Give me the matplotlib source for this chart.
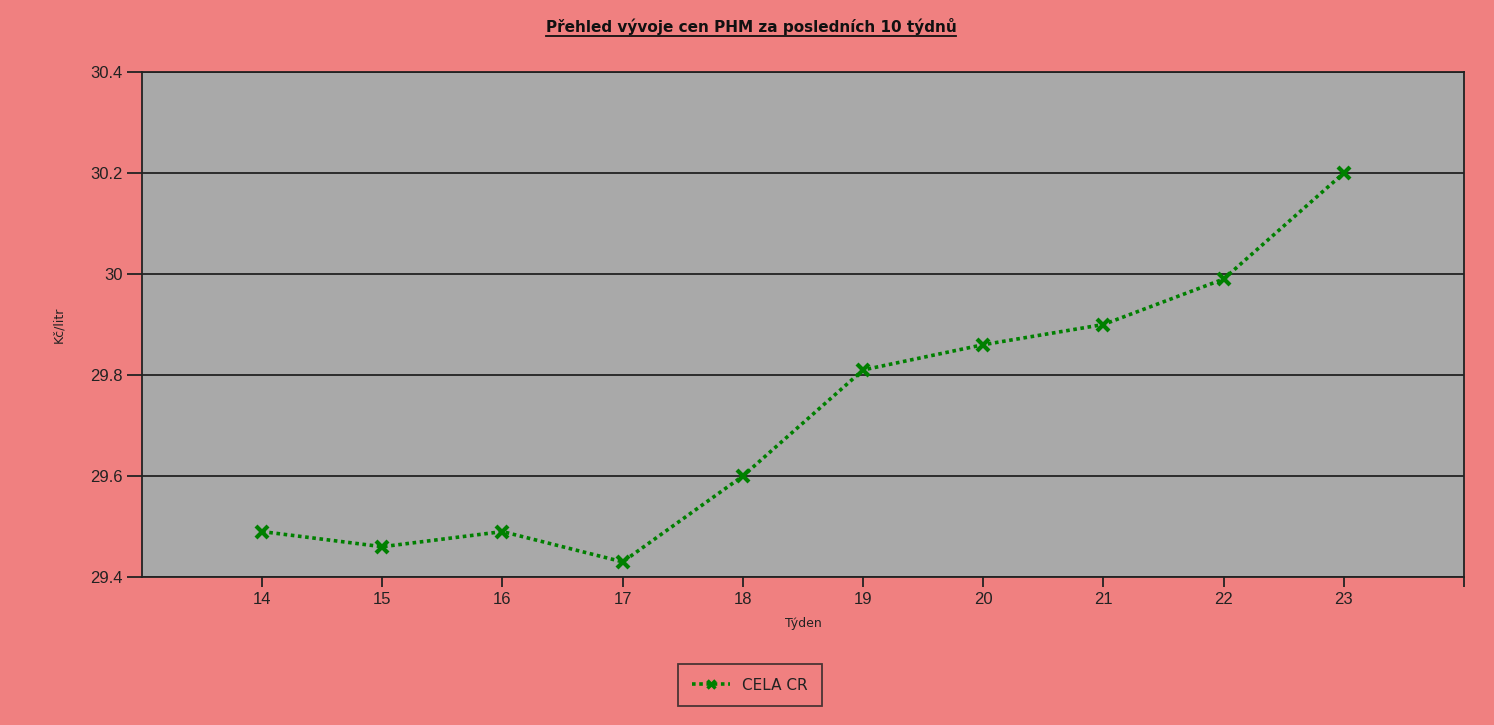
import matplotlib
matplotlib.use("Agg")
import matplotlib.pyplot as plt
from matplotlib.lines import Line2D

# week numbers and average fuel price (Kč/litr)
weeks = [14, 15, 16, 17, 18, 19, 20, 21, 22, 23]
prices = [29.49, 29.46, 29.49, 29.43, 29.60, 29.81, 29.86, 29.90, 29.99, 30.20]
series_name = "CELA CR"
y_ticks = [29.4, 29.6, 29.8, 30.0, 30.2, 30.4]
y_tick_labels = ["29.4", "29.6", "29.8", "30", "30.2", "30.4"]

bg = "#F08080"
plot_bg = "#A9A9A9"
dark = "#222222"
green = "#008000"

fig = plt.figure(figsize=(14.94, 7.25), dpi=100, facecolor=bg)
ax = fig.add_axes([0.0950, 0.2041, 0.8849, 0.6966], facecolor=plot_bg)

ax.plot(weeks, prices, color=green, linestyle=(0, (1, 1)), linewidth=2.6,
        marker="x", markersize=9, markeredgewidth=3, label=series_name)

ax.set_xlim(13, 24)
ax.set_ylim(29.4, 30.4)
ax.set_xticks(weeks + [24])
ax.set_xticklabels([str(w) for w in weeks] + [""])
ax.set_yticks(y_ticks)
ax.set_yticklabels(y_tick_labels)
ax.yaxis.grid(True, color=dark, linewidth=1.3)
ax.set_axisbelow(True)

for s in ax.spines.values():
    s.set_color(dark)
    s.set_linewidth(1.3)

ax.tick_params(axis="both", colors=dark, width=1.3, labelsize=12,
               labelcolor=dark)
ax.tick_params(axis="y", length=11, pad=3)
ax.tick_params(axis="x", length=7, pad=4)
for lbl in ax.get_xticklabels() + ax.get_yticklabels():
    lbl.set_fontfamily("Liberation Sans")

ax.set_xlabel("Týden", fontsize=9, color=dark, labelpad=7)
ax.set_ylabel("Kč/litr", fontsize=9, color=dark, labelpad=18)

title = fig.text(0.5027, 0.964, "Přehled vývoje cen PHM za posledních 10 týdnů",
                 ha="center", va="center", fontsize=11, fontweight="bold",
                 color="#111111")

leg = fig.legend(handles=[Line2D([], [], color=green, linestyle=(0, (1, 1)),
                                 linewidth=2.6, marker="x", markersize=6,
                                 markeredgewidth=2.5)],
                 labels=[series_name], loc="center", bbox_to_anchor=(0.502, 0.055),
                 fancybox=False, facecolor="none", edgecolor=dark,
                 fontsize=11, handlelength=2.5, borderpad=0.9, labelcolor=dark)
leg.get_frame().set_linewidth(1.3)

# underline the title
fig.canvas.draw()
bb = title.get_window_extent().transformed(fig.transFigure.inverted())
fig.add_artist(Line2D([bb.x0, bb.x1], [bb.y0 - 0.002, bb.y0 - 0.002],
                      color="#111111", linewidth=1.3,
                      transform=fig.transFigure))

fig.savefig("out.png", dpi=100, facecolor=bg)
